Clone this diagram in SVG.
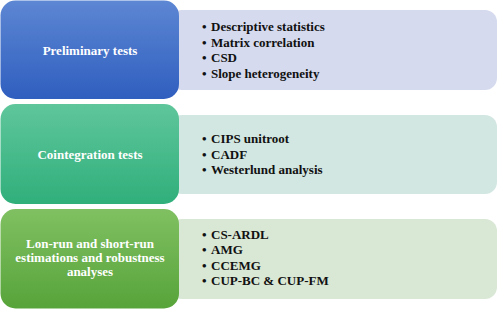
<svg xmlns="http://www.w3.org/2000/svg" width="498" height="309" viewBox="0 0 498 309">
<defs>
<linearGradient id="gBlue" x1="0" y1="0" x2="0" y2="1"><stop offset="0" stop-color="#5d87d3"/><stop offset="1" stop-color="#2f5ebf"/></linearGradient>
<linearGradient id="gTeal" x1="0" y1="0" x2="0" y2="1"><stop offset="0" stop-color="#5fc69b"/><stop offset="1" stop-color="#30af7b"/></linearGradient>
<linearGradient id="gGreen" x1="0" y1="0" x2="0" y2="1"><stop offset="0" stop-color="#80c062"/><stop offset="1" stop-color="#57a43a"/></linearGradient>
<style>
.h{font-family:"Liberation Serif","Times New Roman",serif;font-weight:bold;font-size:13px;fill:#ffffff;text-anchor:middle}
.t{font-family:"Liberation Serif","Times New Roman",serif;font-weight:bold;font-size:13px;fill:#111111}
</style>
</defs>
<g id="details1">
<rect x="170" y="10" width="327" height="80" rx="12" fill="#d5daee"/>
<text class="t" x="202" y="31">•</text><text class="t" x="211" y="31">Descriptive statistics</text>
<text class="t" x="202" y="46.5">•</text><text class="t" x="211" y="46.5">Matrix correlation</text>
<text class="t" x="202" y="62">•</text><text class="t" x="211" y="62">CSD</text>
<text class="t" x="202" y="77.5">•</text><text class="t" x="211" y="77.5">Slope heterogeneity</text>
</g>
<g id="details2">
<rect x="170" y="115" width="327" height="79" rx="12" fill="#d3e7e2"/>
<text class="t" x="202" y="143">•</text><text class="t" x="211" y="143">CIPS unitroot</text>
<text class="t" x="202" y="158.5">•</text><text class="t" x="211" y="158.5">CADF</text>
<text class="t" x="202" y="174">•</text><text class="t" x="211" y="174">Westerlund analysis</text>
</g>
<g id="details3">
<rect x="170" y="219" width="327" height="80" rx="12" fill="#d9e7d5"/>
<text class="t" x="202" y="238.5">•</text><text class="t" x="211" y="238.5">CS-ARDL</text>
<text class="t" x="202" y="254">•</text><text class="t" x="211" y="254">AMG</text>
<text class="t" x="202" y="269.5">•</text><text class="t" x="211" y="269.5">CCEMG</text>
<text class="t" x="202" y="285">•</text><text class="t" x="211" y="285">CUP-BC &amp; CUP-FM</text>
</g>
<g id="stage1">
<rect x="0.5" y="0.5" width="178.5" height="98.5" rx="15" fill="url(#gBlue)"/>
<text class="h" x="90" y="54.5">Preliminary tests</text>
</g>
<g id="stage2">
<rect x="0.5" y="104" width="178.5" height="100" rx="15" fill="url(#gTeal)"/>
<text class="h" x="90" y="158.5">Cointegration tests</text>
</g>
<g id="stage3">
<rect x="0.5" y="209" width="178.5" height="99.5" rx="15" fill="url(#gGreen)"/>
<text class="h" x="90" y="248">Lon-run and short-run</text>
<text class="h" x="90" y="262">estimations and robustness</text>
<text class="h" x="90" y="276">analyses</text>
</g>
<g id="connectors"/>
</svg>
